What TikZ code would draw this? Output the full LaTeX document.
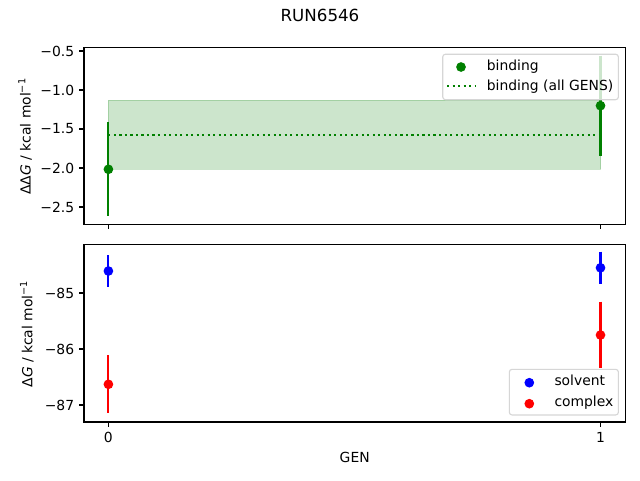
\documentclass[tikz,border=0pt]{standalone}
\usepackage{fontspec}
\setmainfont{DejaVu Sans}
\usetikzlibrary{backgrounds}
\definecolor{mgreen}{HTML}{008000}
\definecolor{mblue}{HTML}{0000FF}
\definecolor{mred}{HTML}{FF0000}
\definecolor{mfill}{HTML}{CCE6CC}
\definecolor{legedge}{HTML}{D6D6D6}
\tikzset{
  axisframe/.style={draw=black, line width=1.11pt},
  tickmark/.style={draw=black, line width=1.11pt},
  ticklabel/.style={font=\fontsize{13.89}{16}\selectfont, inner sep=0pt},
  labeltext/.style={font=\fontsize{13.89}{16}\selectfont, inner sep=0pt},
  errbar/.style={line width=2.08pt},
  datadot/.style={circle, inner sep=0pt, minimum size=9.7pt, draw=none},
  legframe/.style={draw=legedge, line width=1.1pt, fill=white, fill opacity=0.8, rounded corners=2.8pt},
}
\begin{document}
\begin{tikzpicture}[x=1pt, y=-1pt]
\useasboundingbox (0,0) rectangle (640,480);
\fill[white] (0,0) rectangle (640,480);

% title
\node[font=\fontsize{16.67}{20}\selectfont, inner sep=0pt, anchor=base] (title) at (320,21.7) {RUN6546};

% ===== top panel =====
\coordinate (tA) at (84,47.3);
\coordinate (tB) at (625.3,224.3);
% shaded band
\fill[mgreen, fill opacity=0.2, draw=mgreen, draw opacity=0.2, line width=1pt] (108.4,100.3) rectangle (600.5,169.3);
% dotted mean
\coordinate (m0) at (108.4,135);
\coordinate (m1) at (600.5,135);
\draw[mgreen, line width=2.08pt, dash pattern=on 2.08pt off 3.43pt] (m0) -- (m1);
% error bars
\coordinate (g0t) at (108.4,122);
\coordinate (g0b) at (108.4,215.7);
\coordinate (g1t) at (600.5,55.5);
\coordinate (g1b) at (600.5,156);
\draw[errbar, mgreen] (g0t) -- (g0b);
\draw[errbar, mgreen] (g1t) -- (g1b);
\node[datadot, fill=mgreen] (g0) at (108.4,169.3) {};
\node[datadot, fill=mgreen] (g1) at (600.5,105.7) {};
% frame
\draw[axisframe] (tA) rectangle (tB);
% y ticks
\foreach \yy/\lab in {51/−0.5, 90/−1.0, 129/−1.5, 168/−2.0, 207/−2.5}{
  \draw[tickmark] (84,\yy) -- (79.14,\yy);
  \node[ticklabel, anchor=east] at (74.3,\yy) {\lab};
}
% x ticks (no labels)
\foreach \xx in {108.4, 600.5}{
  \draw[tickmark] (\xx,224.3) -- (\xx,229.16);
}
% y label
\node[labeltext, rotate=90, anchor=base] (ylab1) at (30.7,136.5) {ΔΔ\textit{G} / kcal mol\textsuperscript{−1}};
% legend
\draw[legframe] (442.7,54.2) rectangle (618.4,99.7);
\node[datadot, fill=mgreen] (lg1) at (461,67) {};
\node[labeltext, anchor=base west] (lt1) at (486.7,70.7) {binding};
\coordinate (ld0) at (447,86.3);
\coordinate (ld1) at (475,86.3);
\draw[mgreen, line width=2.08pt, dash pattern=on 2.08pt off 3.43pt] (ld0) -- (ld1);
\node[labeltext, anchor=base west] (lt2) at (486.7,90.7) {binding (all GENS)};

% ===== bottom panel =====
\coordinate (bA) at (84,244.5);
\coordinate (bB) at (625.3,422);
\coordinate (b0t) at (108.4,255);
\coordinate (b0b) at (108.4,287.3);
\coordinate (r0t) at (108.4,355);
\coordinate (r0b) at (108.4,413.3);
\coordinate (b1t) at (600.5,251.7);
\coordinate (b1b) at (600.5,283.5);
\coordinate (r1t) at (600.5,301.7);
\coordinate (r1b) at (600.5,368.3);
\draw[errbar, mblue] (b0t) -- (b0b);
\draw[errbar, mred] (r0t) -- (r0b);
\draw[errbar, mblue] (b1t) -- (b1b);
\draw[errbar, mred] (r1t) -- (r1b);
\node[datadot, fill=mblue] (s0) at (108.4,271) {};
\node[datadot, fill=mred] (c0) at (108.4,384.3) {};
\node[datadot, fill=mblue] (s1) at (600.5,267.8) {};
\node[datadot, fill=mred] (c1) at (600.5,335) {};
\draw[axisframe] (bA) rectangle (bB);
\foreach \yy/\lab in {293/−85, 349/−86, 405/−87}{
  \draw[tickmark] (84,\yy) -- (79.14,\yy);
  \node[ticklabel, anchor=east] at (74.3,\yy) {\lab};
}
\foreach \xx/\lab in {108.4/0, 600.5/1}{
  \draw[tickmark] (\xx,422) -- (\xx,426.86);
  \node[ticklabel, anchor=north] at (\xx,431.7) {\lab};
}
\node[labeltext, anchor=base] (xlab) at (354.7,462) {GEN};
\node[labeltext, rotate=90, anchor=base] (ylab2) at (32.3,334) {Δ\textit{G} / kcal mol\textsuperscript{−1}};
% legend
\draw[legframe] (509.3,369.3) rectangle (618.4,415);
\node[datadot, fill=mblue] (ls) at (529.3,382.7) {};
\node[datadot, fill=mred] (lc) at (529.3,403.7) {};
\node[labeltext, anchor=base west] (lts) at (554.3,385.5) {solvent};
\node[labeltext, anchor=base west] (ltc) at (554.3,406.2) {complex};
\end{tikzpicture}
\end{document}
